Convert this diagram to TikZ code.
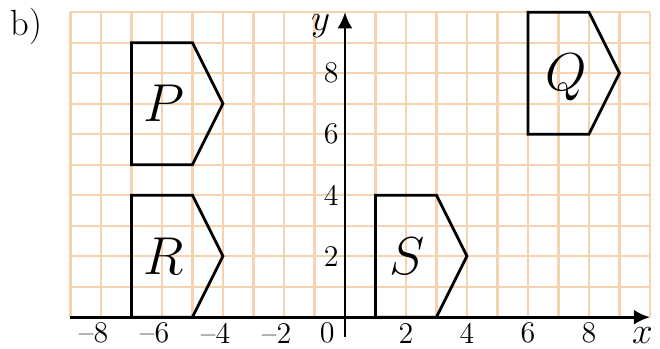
\documentclass[tikz,border=0pt]{standalone}
\usetikzlibrary{arrows.meta}
\definecolor{gridc}{RGB}{245,210,176}
\begin{document}
\begin{tikzpicture}[x=0.5cm,y=0.5cm,
  gridline/.style={draw=gridc,line width=1pt},
  shapeline/.style={draw=black,line width=1.3pt,line join=miter},
  axisline/.style={draw=black,line width=1.3pt,-{Latex[length=7.5pt,width=7pt]}},
  num/.style={inner sep=0pt,font=\fontsize{14}{16}\selectfont},
  shapelabel/.style={inner sep=0pt,font=\fontsize{23}{25}\selectfont\itshape},
  axlabel/.style={inner sep=0pt,font=\fontsize{18}{20}\selectfont\itshape}]
\useasboundingbox (-11.31,-1.04) rectangle (10.33,10.4);
% grid
\draw[gridline,step=0.5cm] (-9,0) grid (10,10);
% shapes
\draw[shapeline] (-7,9) -- (-5,9) -- (-4,7) -- (-5,5) -- (-7,5) -- cycle;
\draw[shapeline] (-7,4) -- (-5,4) -- (-4,2) -- (-5,0) -- (-7,0) -- cycle;
\draw[shapeline] (1,4) -- (3,4) -- (4,2) -- (3,0) -- (1,0) -- cycle;
\draw[shapeline] (6,10) -- (8,10) -- (9,8) -- (8,6) -- (6,6) -- cycle;
% axes
\coordinate (xs) at (-9,0);
\coordinate (xe) at (10,0);
\coordinate (ys) at (0,-0.64);
\coordinate (ye) at (0,10);
\draw[axisline] (xs) -- (xe);
\draw[axisline] (ys) -- (ye);
% labels
\node[shapelabel] (lP) at (-5.95,7) {$P$};
\node[shapelabel] (lR) at (-5.95,2) {$R$};
\node[shapelabel] (lS) at (2.05,2) {$S$};
\node[shapelabel] (lQ) at (7.25,7.85) {$Q$};
\node[axlabel] (lx) at (9.75,-0.6) {$x$};
\node[axlabel] (ly) at (-0.8,9.55) {$y$};
\node[inner sep=0pt,font=\fontsize{17}{19}\selectfont] (lb) at (-10.45,9.55) {b)};
% x ticks
\foreach \v in {8,6,4,2} {
  \node[num] (xm\v) at (-\v,-0.52) {\llap{--}\v};
}
\node[num] (x0) at (-0.58,-0.52) {0};
\foreach \v in {2,4,6,8} {
  \node[num] (xp\v) at (\v,-0.52) {\v};
}
% y ticks
\foreach \v in {2,4,6,8} {
  \node[num] (yp\v) at (-0.45,\v) {\v};
}
\end{tikzpicture}
\end{document}
